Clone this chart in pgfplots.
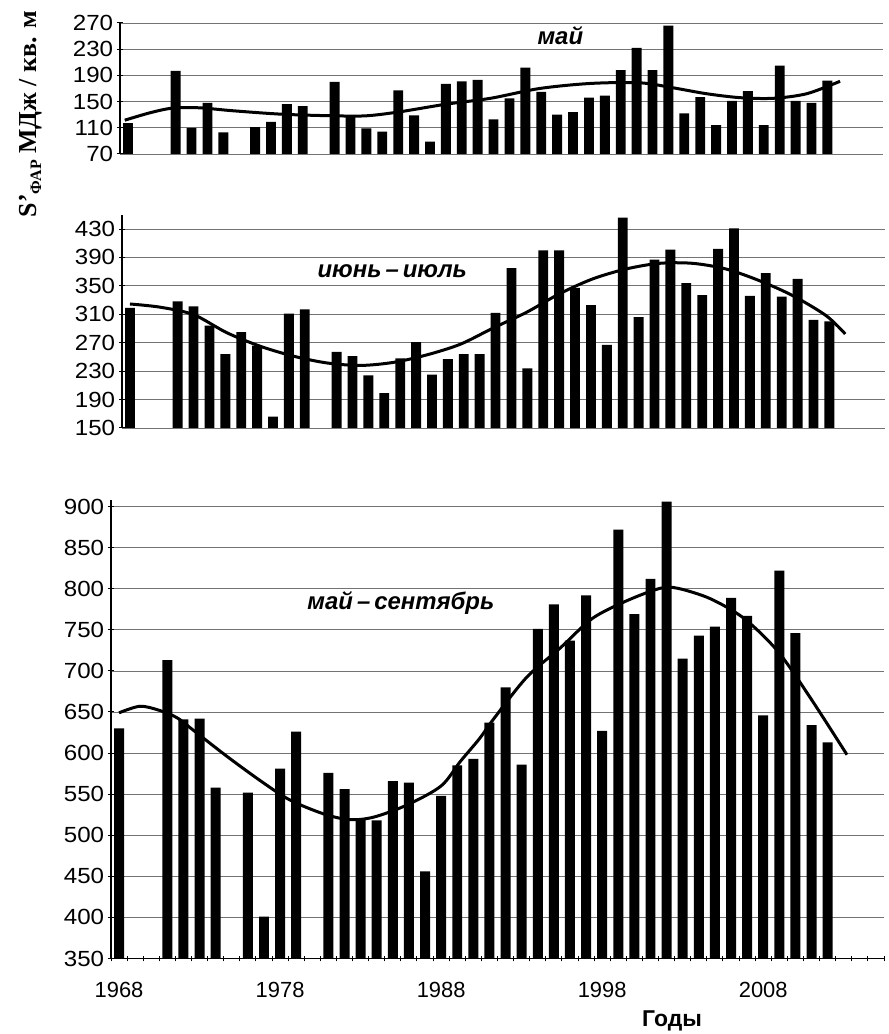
\documentclass[border=0pt]{standalone}
\usepackage{fontspec}
\setmainfont{Liberation Sans}
\newfontfamily\serifb{Liberation Serif}
\usepackage{pgfplots}
\pgfplotsset{compat=1.18}
\pgfplotsset{
  panel/.style={
    scale only axis,
    anchor=south west,
    xmin=1967.5, xmax=2015.5,
    tick align=outside,
    major tick length=6bp,
    ytick style={black, line width=1bp},
    ymajorgrids, grid style={black!55, line width=0.8bp},
    tick label style={font=\fontsize{22}{22}\selectfont},
    /pgf/number format/assume math mode=true,
    yticklabel style={anchor=east, xscale=1.1},
    clip=true,
  },
  noarrows/.style={
    axis line style={-, black, line width=1.2bp},
    every outer x axis line/.append style={-},
    every outer y axis line/.append style={-},
    every inner x axis line/.append style={-},
    every inner y axis line/.append style={-},
  },
  bars/.style={ybar, bar width=0.62, fill=black, draw=none},
  trend/.style={smooth, black, line width=3bp, no marks},
}
\begin{document}
\begin{tikzpicture}
\path[use as bounding box] (0,0) rectangle (889bp,1034bp);

% ---------- May ----------
\begin{axis}[panel, at={(120bp,880bp)}, width=763bp, height=131bp,
  axis y line=left, axis x line=none, xtick=\empty, noarrows,
  ymin=70, ymax=270, ytick={70,110,...,270}]
\addplot[bars] table {
1968 117
1971 197
1972 110
1973 148
1974 103
1976 111
1977 119
1978 146
1979 143
1981 180
1982 127
1983 109
1984 104
1985 167
1986 129
1987 89
1988 177
1989 181
1990 183
1991 123
1992 155
1993 202
1994 165
1995 130
1996 134
1997 156
1998 159
1999 198
2000 232
2001 198
2002 266
2003 132
2004 157
2005 114
2006 151
2007 166
2008 114
2009 205
2010 151
2011 148
2012 182
};
\addplot[trend] coordinates {
(1967.8,121.6) (1969.4,133) (1970.8,140) (1972.5,140.5) (1974.6,136)
(1977.7,130.7) (1980.9,128.3) (1983,128.3) (1985.1,134.4) (1988,146)
(1990.8,155) (1993.9,170) (1997.1,177.7) (2000.2,178.7) (2002.3,171)
(2004.4,162) (2006.5,156) (2008.6,155) (2010.7,162) (2012.8,181)
};
\node[font=\fontsize{24}{24}\selectfont\bfseries\itshape] at (axis cs:1995.2,250) {май};
\end{axis}

% ---------- June-July ----------
\begin{axis}[panel, at={(122bp,606bp)}, width=763bp, height=213.2bp,
  axis y line=left, axis x line=none, xtick=\empty, noarrows,
  ymin=150, ymax=450, ytick={150,190,...,430}]
\addplot[bars] table {
1968 319
1971 328
1972 321
1973 294
1974 254
1975 285
1976 266
1977 166
1978 311
1979 317
1981 257
1982 251
1983 224
1984 199
1985 248
1986 271
1987 225
1988 247
1989 254
1990 254
1991 312
1992 375
1993 234
1994 400
1995 400
1996 347
1997 323
1998 267
1999 446
2000 306
2001 387
2002 401
2003 354
2004 337
2005 402
2006 431
2007 336
2008 368
2009 335
2010 360
2011 302
2012 300
};
\addplot[trend] coordinates {
(1968.0,324.5) (1969.9,320) (1972.0,309.5) (1974.1,284) (1976.2,265)
(1978.3,251) (1980.4,241.5) (1982.5,238) (1984.6,242.4) (1986.7,253)
(1988.8,268) (1990.85,290.7) (1992.95,312.8) (1995.0,338.6) (1997.1,359.7)
(1999.2,373.7) (2001.3,381.7) (2003.4,381.7) (2005.5,373.7) (2007.6,357.3)
(2009.7,336.2) (2011.8,308) (2013.0,282.3)
};
\node[font=\fontsize{24}{24}\selectfont\bfseries\itshape] at (axis cs:1984.5,371) {июнь\,–\,июль};
\end{axis}

% ---------- May-September ----------
\begin{axis}[panel, at={(111bp,75.5bp)}, width=773bp, height=458.5bp,
  axis y line=left, axis x line=bottom, noarrows,
  ymin=350, ymax=908, ytick={350,400,...,900},
  xtick={1967.5,1968.5,...,2015.5},
  xticklabels={},
  xtick style={black, line width=1bp},
  extra x ticks={1968,1978,1988,1998,2008},
  extra x tick labels={1968,1978,1988,1998,2008},
  extra x tick style={tick style={draw=none}, grid=none},
  xticklabel style={yshift=-17bp},
  ]
\addplot[bars] table {
1968 630
1971 713
1972 641
1973 642
1974 558
1976 552
1977 401
1978 581
1979 626
1981 576
1982 556
1983 520
1984 518
1985 566
1986 564
1987 456
1988 548
1989 585
1990 593
1991 637
1992 680
1993 586
1994 751
1995 781
1996 737
1997 792
1998 627
1999 872
2000 769
2001 812
2002 906
2003 715
2004 743
2005 754
2006 789
2007 767
2008 646
2009 822
2010 746
2011 634
2012 613
};
\addplot[trend] coordinates {
(1968.0,649) (1969.3,657) (1970.5,652) (1971.6,643) (1972.6,628)
(1974.7,596) (1976.8,566) (1978.6,543) (1980.7,526) (1982.3,519)
(1983.8,522) (1985.9,537) (1988,560) (1989.2,590) (1990.4,618)
(1991.2,640) (1993.3,692) (1995.4,728) (1997.4,764) (1999.6,786)
(2001.6,800.5) (2002.7,800.5) (2004.7,788) (2006.8,764) (2008.9,724)
(2010.9,668) (2013.2,598)
};
\node[font=\fontsize{24}{24}\selectfont\bfseries\itshape] at (axis cs:1985.5,782) {май\,–\,сентябрь};
\end{axis}

\node[rotate=90, font=\serifb\bfseries\fontsize{26}{26}\selectfont] at (31bp,920bp)
  {S’\raisebox{-0.35ex}{\fontsize{16}{16}\selectfont ФАР} МДж / кв. м};
\node[font=\bfseries\fontsize{23}{23}\selectfont] at (672bp,13bp) {Годы};
\end{tikzpicture}
\end{document}
